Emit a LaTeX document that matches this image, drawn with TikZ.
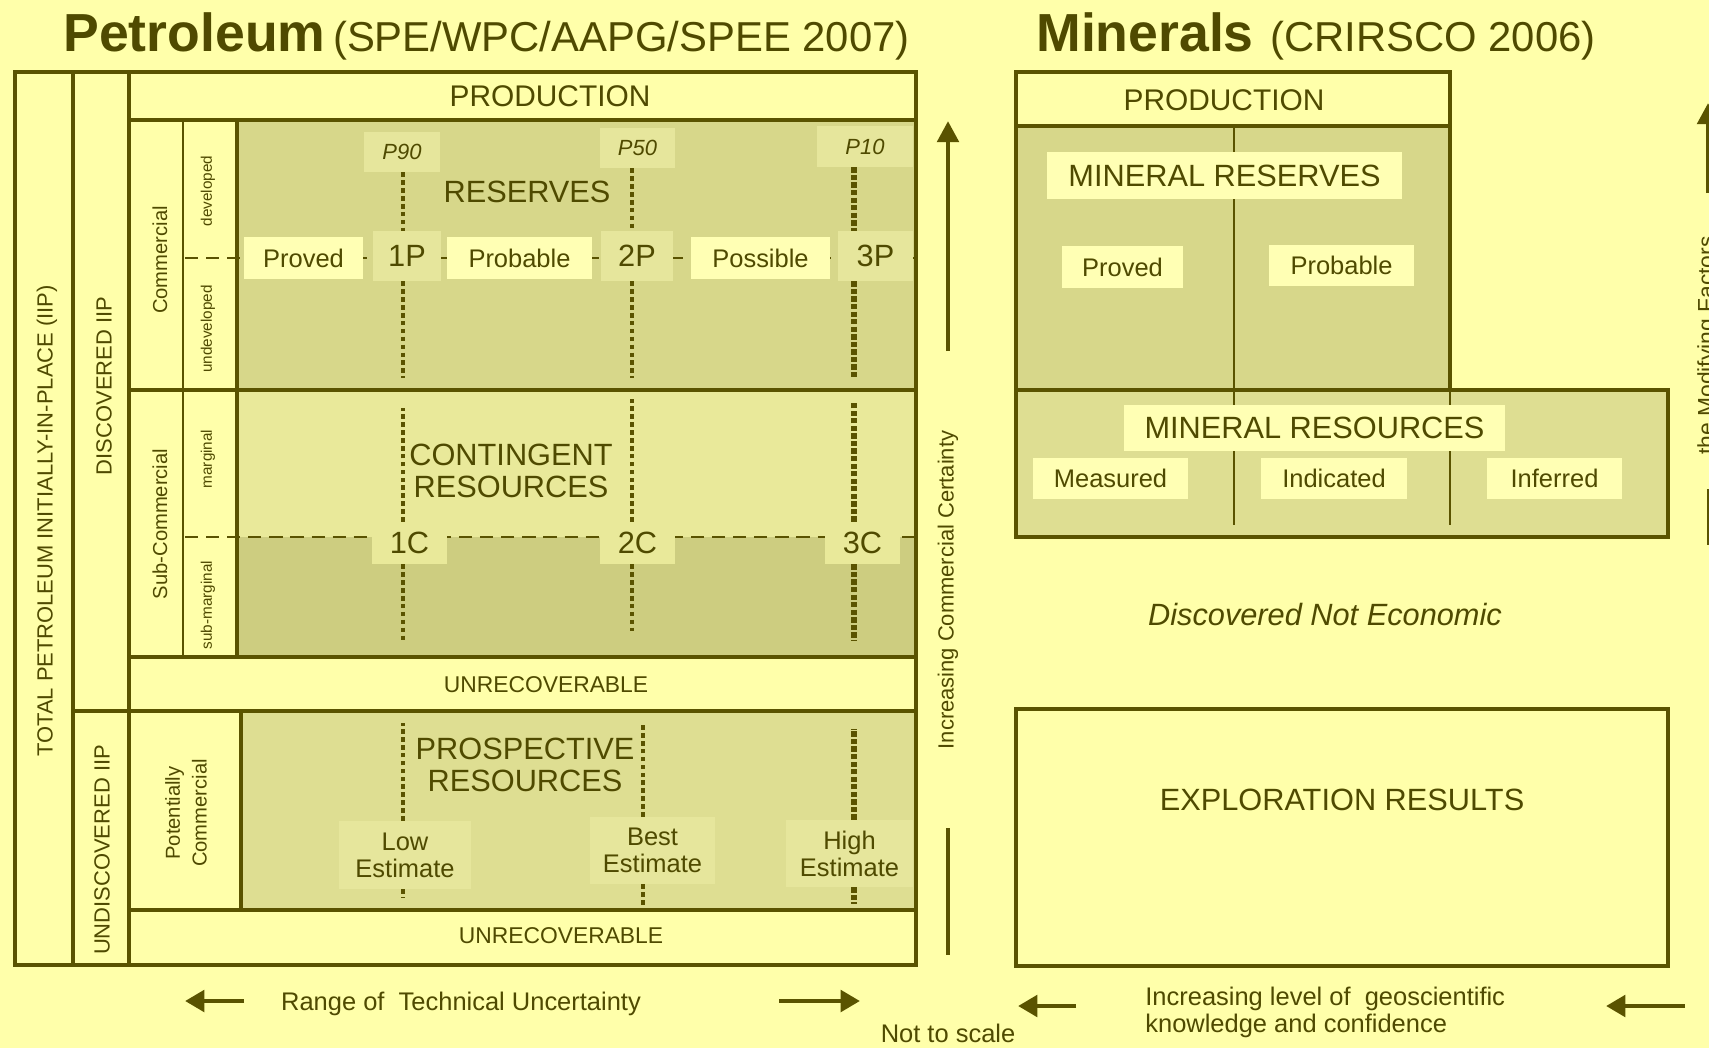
\documentclass[tikz,border=0pt]{standalone}
\usepackage{fontspec}
\setmainfont{Liberation Sans}
\usetikzlibrary{arrows.meta, positioning}

\definecolor{bgcol}{HTML}{FFFFAA}
\definecolor{linecol}{HTML}{5A5300}
\definecolor{txtcol}{HTML}{4F4A00}
\definecolor{resfill}{HTML}{D7D78A}
\definecolor{margfill}{HTML}{E9E99A}
\definecolor{submfill}{HTML}{CDCD80}
\definecolor{prosfill}{HTML}{DEDE92}
\definecolor{boxbright}{HTML}{FFFFB4}
\definecolor{boxpale}{HTML}{E6E69C}

\tikzset{
  frame/.style={draw=linecol, line width=2.3pt},
  midframe/.style={draw=linecol, line width=1.5pt},
  thinline/.style={draw=linecol, line width=0.9pt},
  txt/.style={text=txtcol, inner sep=0pt, align=center},
  bigtxt/.style={txt, font=\fontsize{17.5}{18.2}\selectfont},
  midtxt/.style={txt, font=\fontsize{14.5}{15.3}\selectfont},
  smalltxt/.style={txt, font=\fontsize{12.5}{15}\selectfont},
  sidetxt/.style={txt, font=\fontsize{11.5}{15.3}\selectfont},
  tinytxt/.style={txt, font=\fontsize{8.7}{10}\selectfont},
  titlebold/.style={txt, font=\fontsize{30.5}{35}\selectfont\bfseries},
  titlereg/.style={txt, font=\fontsize{23.8}{28}\selectfont},
  brightbox/.style={midtxt, fill=boxbright},
  palebox/.style={bigtxt, fill=boxpale},
  pcbox/.style={txt, fill=boxpale, font=\fontsize{12.5}{15}\selectfont\itshape},
  pdot/.style={draw=linecol, line width=2.4pt, dash pattern=on 2.6pt off 1.9pt},
  pdotb/.style={draw=linecol, line width=2.9pt, dash pattern=on 3pt off 1.3pt},
  hdash/.style={draw=linecol, line width=1.6pt, dash pattern=on 7.5pt off 4.5pt},
  bigarrow/.style={-{Triangle[length=11pt,width=12pt]}, draw=linecol, line width=2.8pt},
  bar/.style={draw=linecol, line width=2.8pt}
}

\begin{document}
\begin{tikzpicture}[x=0.02cm, y=-0.02cm]
  \useasboundingbox (0,0) rectangle (1709,1048);
  \fill[bgcol] (0,0) rectangle (1709,1048);

  % Titres
  \node[titlebold, anchor=base west] (petro) at (63,51) {Petroleum};
  \node[titlereg, anchor=base west, xshift=4pt] (petrosrc) at (petro.base east) {(SPE/WPC/AAPG/SPEE 2007)};
  \node[titlebold, anchor=base west] (minerals) at (1036,51) {Minerals};
  \node[titlereg, anchor=base west, xshift=9pt] (minsrc) at (minerals.base east) {(CRIRSCO 2006)};

  % Fonds colores
  \fill[resfill] (237,120) rectangle (916,390);
  \fill[margfill] (237,390) rectangle (916,537);
  \fill[submfill] (237,537) rectangle (916,657);
  \fill[prosfill] (241,711) rectangle (916,910);
  \fill[resfill] (1016,126) rectangle (1450,390);
  \fill[prosfill] (1016,390) rectangle (1668,537);

  % Lignes pointillees horizontales
  \draw[hdash] (185,258) -- (916,258);
  \draw[hdash] (185,537) -- (916,537);

  % Lignes fines minerals
  \draw[thinline] (1234,126) -- (1234,525);
  \draw[thinline] (1450,390) -- (1450,525);

  % Colonnes de gauche
  \node[smalltxt, rotate=90] (totaliip) at (47,521) {TOTAL PETROLEUM INITIALLY-IN-PLACE (IIP)};
  \node[smalltxt, rotate=90] (disciip) at (104,386) {DISCOVERED IIP};
  \node[smalltxt, rotate=90] (undisciip) at (102,850) {UNDISCOVERED IIP};
  \node[sidetxt, rotate=90] (comm) at (160,260) {Commercial};
  \node[tinytxt, rotate=90] (devel) at (208,191) {developed};
  \node[tinytxt, rotate=90] (undevel) at (208,329) {undeveloped};
  \node[sidetxt, rotate=90] (subcomm) at (160,524) {Sub-Commercial};
  \node[tinytxt, rotate=90] (marg) at (208,459) {marginal};
  \node[tinytxt, rotate=90] (submarg) at (208,605) {sub-marginal};
  \node[sidetxt, rotate=90] (potcomm) at (186,813) {Potentially\\Commercial};

  % Classes petroleum
  \node[bigtxt, font=\fontsize{17}{18}\selectfont] (prodp) at (550,96) {PRODUCTION};
  \node[bigtxt] (reserves) at (527,192) {RESERVES};
  \node[bigtxt] (contres) at (511,471) {CONTINGENT\\RESOURCES};
  \node[bigtxt] (prosres) at (525,765) {PROSPECTIVE\\RESOURCES};
  \node[txt, font=\fontsize{13}{15}\selectfont] (unrec) at (546,685) {UNRECOVERABLE};
  \node[txt, font=\fontsize{13}{15}\selectfont] (unrecb) at (561,936) {UNRECOVERABLE};

  % Etiquettes P90 P50 P10
  \node[pcbox, minimum width=1.54cm, minimum height=0.8cm] (p90) at (402,152) {P90};
  \node[pcbox, minimum width=1.5cm, minimum height=0.8cm] (p50) at (637.5,148) {P50};
  \node[pcbox, minimum width=1.92cm, minimum height=0.82cm] (p10) at (865,146.5) {P10};

  % Reserves
  \node[brightbox, minimum width=2.38cm, minimum height=0.84cm] (proved) at (303.5,258) {Proved};
  \node[palebox, minimum width=1.36cm, minimum height=1cm] (onep) at (407,256) {1P};
  \node[brightbox, minimum width=2.9cm, minimum height=0.84cm] (probable) at (519.5,258) {Probable};
  \node[palebox, minimum width=1.44cm, minimum height=1cm] (twop) at (637,256) {2P};
  \node[brightbox, minimum width=2.78cm, minimum height=0.84cm] (possible) at (760.5,258) {Possible};
  \node[palebox, minimum width=1.5cm, minimum height=1cm] (threep) at (875.5,256) {3P};

  % Contingent
  \node[bigtxt, fill=margfill, minimum width=1.5cm, minimum height=0.84cm] (onec) at (409.5,543) {1C};
  \node[bigtxt, fill=margfill, minimum width=1.5cm, minimum height=0.84cm] (twoc) at (637.5,543) {2C};
  \node[bigtxt, fill=margfill, minimum width=1.5cm, minimum height=0.84cm] (threec) at (862.5,543) {3C};

  % Prospective
  \node[midtxt, fill=boxpale, minimum width=2.64cm, minimum height=1.36cm] (lowest) at (405,855) {Low\\Estimate};
  \node[midtxt, fill=boxpale, minimum width=2.5cm, minimum height=1.34cm] (bestest) at (652.5,850.5) {Best\\Estimate};
  \node[midtxt, fill=boxpale, minimum width=2.54cm, minimum height=1.34cm] (highest) at (849.5,853.5) {High\\Estimate};

  % Lignes P
  \coordinate (k1) at (403,0);
  \coordinate (k2) at (632,0);
  \coordinate (k2p) at (643,0);
  \coordinate (k3) at (854,0);
  \draw[pdot] (p90.south -| k1) -- (onep.north -| k1);
  \draw[pdot] (onep.south -| k1) -- ++(0,97);
  \draw[pdot] (p50.south -| k2) -- (twop.north -| k2);
  \draw[pdot] (twop.south -| k2) -- ++(0,97);
  \draw[pdotb] (p10.south -| k3) -- (threep.north -| k3);
  \draw[pdotb] (threep.south -| k3) -- ++(0,97);
  \draw[pdot] (onec.north -| k1) -- ++(0,-114);
  \draw[pdot] (onec.south -| k1) -- ++(0,79);
  \draw[pdot] (twoc.north -| k2) -- ++(0,-123);
  \draw[pdot] (twoc.south -| k2) -- ++(0,67);
  \draw[pdotb] (threec.north -| k3) -- ++(0,-119);
  \draw[pdotb] (threec.south -| k3) -- ++(0,76);
  \draw[pdot] (lowest.north -| k1) -- ++(0,-98);
  \draw[pdot] (lowest.south -| k1) -- ++(0,9);
  \draw[pdot] (bestest.north -| k2p) -- ++(0,-94);
  \draw[pdot] (bestest.south -| k2p) -- ++(0,22);
  \draw[pdotb] (highest.north -| k3) -- ++(0,-91);
  \draw[pdotb] (highest.south -| k3) -- ++(0,17);

  % Cadres petroleum
  \draw[frame] (15,72) rectangle (916,965);
  \draw[frame] (73,72) -- (73,965);
  \draw[frame] (129,72) -- (129,965);
  \draw[frame] (73,711) -- (916,711);
  \draw[frame] (129,120) -- (916,120);
  \draw[frame] (129,390) -- (916,390);
  \draw[frame] (129,657) -- (916,657);
  \draw[frame] (129,910) -- (916,910);
  \draw[midframe] (183,120) -- (183,657);
  \draw[frame] (237,120) -- (237,657);
  \draw[frame] (241,711) -- (241,910);

  % Certitude commerciale
  \coordinate (certlow) at (948,351);
  \coordinate (certhigh) at (948,121);
  \coordinate (certbara) at (948,828);
  \coordinate (certbarb) at (948,955);
  \draw[bigarrow, -{Triangle[length=12pt,width=12pt]}] (certlow) -- (certhigh);
  \draw[bar] (certbara) -- (certbarb);
  \node[smalltxt, rotate=90] (certainty) at (948,590) {Increasing Commercial Certainty};
  \node[midtxt] (notscale) at (948,1033) {Not to scale};

  % Incertitude technique
  \node[midtxt] (range) at (461,1004) {Range of~ Technical Uncertainty};
  \coordinate (rangela) at (244,1001);
  \coordinate (rangelb) at (185,1001);
  \coordinate (rangera) at (779,1001);
  \coordinate (rangerb) at (860,1001);
  \draw[bigarrow] (rangela) -- (rangelb);
  \draw[bigarrow] (rangera) -- (rangerb);

  % Minerals
  \node[bigtxt, font=\fontsize{17}{18}\selectfont] (prodm) at (1224,100) {PRODUCTION};
  \node[bigtxt, fill=boxbright, minimum width=7.1cm, minimum height=0.94cm] (mreserves) at (1224.5,175.5) {MINERAL RESERVES};
  \node[brightbox, minimum width=2.42cm, minimum height=0.84cm] (mproved) at (1122.5,267) {Proved};
  \node[brightbox, minimum width=2.9cm, minimum height=0.82cm] (mprobable) at (1341.5,265.5) {Probable};
  \node[bigtxt, fill=boxbright, minimum width=7.62cm, minimum height=0.92cm] (mresources) at (1314.5,428) {MINERAL RESOURCES};
  \node[brightbox, minimum width=3.1cm, minimum height=0.82cm] (measured) at (1110.5,478.5) {Measured};
  \node[brightbox, minimum width=2.92cm, minimum height=0.82cm] (indicated) at (1334,478.5) {Indicated};
  \node[brightbox, minimum width=2.7cm, minimum height=0.82cm] (inferred) at (1554.5,478) {Inferred};
  \node[bigtxt, font=\fontsize{17.5}{21}\selectfont\itshape] (notecon) at (1325,615) {Discovered Not Economic};
  \node[bigtxt] (explor) at (1342,800) {EXPLORATION RESULTS};

  % Cadres minerals
  \draw[frame] (1016,72) rectangle (1450,390);
  \draw[frame] (1016,126) -- (1450,126);
  \draw[frame] (1016,390) rectangle (1668,537);
  \draw[frame] (1016,709) rectangle (1668,966);

  % Connaissance geoscientifique
  \node[midtxt, anchor=west, align=left] (geoknow) at (1145,1012) {Increasing level of~ geoscientific\\knowledge and confidence};
  \coordinate (geola) at (1076,1006);
  \coordinate (geolb) at (1018,1006);
  \coordinate (geora) at (1685,1006);
  \coordinate (georb) at (1606,1006);
  \draw[bigarrow] (geola) -- (geolb);
  \draw[bigarrow] (geora) -- (georb);

  % Facteurs modificatifs (coupe au bord)
  \node[txt, font=\fontsize{13}{15}\selectfont, rotate=90, anchor=north west] (modfact) at (1697,455) {the Modifying Factors};
  \coordinate (modlow) at (1708,193);
  \coordinate (modhigh) at (1708,103);
  \coordinate (modbara) at (1709,489);
  \coordinate (modbarb) at (1709,545);
  \draw[bigarrow, -{Triangle[length=12pt,width=12pt]}] (modlow) -- (modhigh);
  \draw[bar] (modbara) -- (modbarb);
\end{tikzpicture}
\end{document}
